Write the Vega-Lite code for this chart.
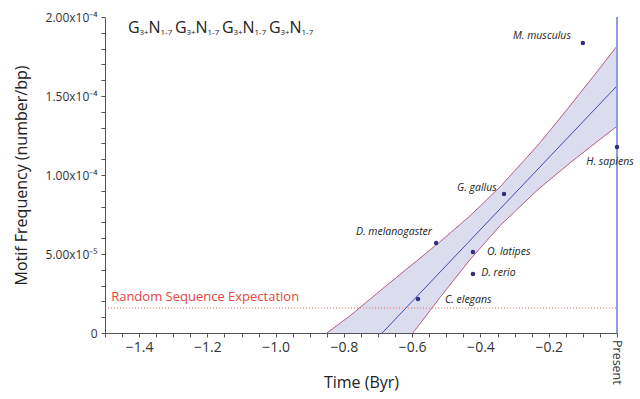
{
  "$schema": "https://vega.github.io/schema/vega-lite/v6.json",
  "width": 512,
  "height": 316,
  "autosize": {"type": "none"},
  "padding": {"left": 105, "top": 17, "right": 23, "bottom": 66},
  "config": {
    "view": {"stroke": null},
    "font": "Open Sans",
    "axis": {"grid": false, "domainColor": "#555", "tickColor": "#555", "labelColor": "#333", "titleColor": "#222", "labelFont": "Open Sans", "titleFont": "Open Sans", "titleFontWeight": "normal"}
  },
  "datasets": {
    "band": [
      {"x": -0.85, "y": -7.32e-5, "y2": 0},
      {"x": -0.782, "y": -5.34e-5, "y2": 1.09e-5},
      {"x": -0.688, "y": -2.62e-5, "y2": 2.78e-5},
      {"x": -0.598, "y": 0, "y2": 4.37e-5},
      {"x": -0.519, "y": 2.24e-5, "y2": 5.76e-5},
      {"x": -0.431, "y": 4.63e-5, "y2": 7.41e-5},
      {"x": -0.343, "y": 6.79e-5, "y2": 9.24e-5},
      {"x": -0.231, "y": 9.09e-5, "y2": 1.19e-4},
      {"x": -0.138, "y": 1.076e-4, "y2": 1.437e-4},
      {"x": -0.05, "y": 1.225e-4, "y2": 1.677e-4},
      {"x": 0, "y": 1.308e-4, "y2": 1.816e-4}
    ],
    "lines": [
      {"line": "upper", "x": -0.85, "y": 0},
      {"line": "upper", "x": -0.782, "y": 1.09e-5},
      {"line": "upper", "x": -0.688, "y": 2.78e-5},
      {"line": "upper", "x": -0.598, "y": 4.37e-5},
      {"line": "upper", "x": -0.519, "y": 5.76e-5},
      {"line": "upper", "x": -0.431, "y": 7.41e-5},
      {"line": "upper", "x": -0.343, "y": 9.24e-5},
      {"line": "upper", "x": -0.231, "y": 1.19e-4},
      {"line": "upper", "x": -0.138, "y": 1.437e-4},
      {"line": "upper", "x": -0.05, "y": 1.677e-4},
      {"line": "upper", "x": 0, "y": 1.816e-4},
      {"line": "lower", "x": -0.688, "y": -2.62e-5},
      {"line": "lower", "x": -0.598, "y": 0},
      {"line": "lower", "x": -0.519, "y": 2.24e-5},
      {"line": "lower", "x": -0.431, "y": 4.63e-5},
      {"line": "lower", "x": -0.343, "y": 6.79e-5},
      {"line": "lower", "x": -0.231, "y": 9.09e-5},
      {"line": "lower", "x": -0.138, "y": 1.076e-4},
      {"line": "lower", "x": -0.05, "y": 1.225e-4},
      {"line": "lower", "x": 0, "y": 1.308e-4},
      {"line": "center", "x": -0.782, "y": -2.13e-5},
      {"line": "center", "x": -0.688, "y": 0},
      {"line": "center", "x": 0, "y": 1.564e-4}
    ],
    "species": [
      {"name": "M. musculus", "x": -0.1, "y": 1.835e-4},
      {"name": "H. sapiens", "x": 0, "y": 1.177e-4},
      {"name": "G. gallus", "x": -0.331, "y": 0.88e-4},
      {"name": "D. melanogaster", "x": -0.53, "y": 0.57e-4},
      {"name": "O. latipes", "x": -0.422, "y": 0.513e-4},
      {"name": "D. rerio", "x": -0.422, "y": 0.373e-4},
      {"name": "C. elegans", "x": -0.583, "y": 0.215e-4}
    ],
    "labels": [
      {"name": "M. musculus", "x": -0.135, "y": 1.88e-4},
      {"name": "H. sapiens", "x": -0.0205, "y": 1.082e-4},
      {"name": "G. gallus", "x": -0.352, "y": 0.918e-4},
      {"name": "D. melanogaster", "x": -0.542, "y": 0.639e-4},
      {"name": "O. latipes", "x": -0.381, "y": 0.513e-4},
      {"name": "D. rerio", "x": -0.398, "y": 0.38e-4},
      {"name": "C. elegans", "x": -0.504, "y": 0.209e-4}
    ],
    "formula": [
      {"x": -1.4326, "y": 1.899e-4},
      {"x": -1.2949, "y": 1.899e-4},
      {"x": -1.1572, "y": 1.899e-4},
      {"x": -1.0195, "y": 1.899e-4}
    ]
  },
  "encoding": {
    "x": {"field": "x", "type": "quantitative", "title": "Time (Byr)",
      "scale": {"domain": [-1.5, 0], "nice": false, "zero": false},
      "axis": {"values": [-1.5,-1.45,-1.4,-1.35,-1.3,-1.25,-1.2,-1.15,-1.1,-1.05,-1.0,-0.95,-0.9,-0.85,-0.8,-0.75,-0.7,-0.65,-0.6,-0.55,-0.5,-0.45,-0.4,-0.35,-0.3,-0.25,-0.2,-0.15,-0.1,-0.05,0],
        "labelExpr": "abs(datum.value) < 0.001 ? '' : (abs(datum.value/0.2 - round(datum.value/0.2)) < 0.01 ? format(datum.value, '.1f') : '')",
        "titleFontSize": 16, "titleY": 41, "titleBaseline": "top",
        "labelFontSize": 14, "tickSize": 4, "labelPadding": 3, "labelFlush": false, "labelOverlap": false}},
    "y": {"field": "y", "type": "quantitative", "title": "Motif Frequency (number/bp)",
      "scale": {"domain": [0, 0.0002], "nice": false, "zero": false},
      "axis": {"values": [0,0.00001,0.00002,0.00003,0.00004,0.00005,0.00006,0.00007,0.00008,0.00009,0.0001,0.00011,0.00012,0.00013,0.00014,0.00015,0.00016,0.00017,0.00018,0.00019,0.0002],
        "labelExpr": "datum.value == 0 ? '0' : (abs(datum.value/0.00005 - round(datum.value/0.00005)) < 0.01 ? (datum.value < 0.0001 ? format(datum.value*100000, '.2f') + 'x10⁻⁵' : format(datum.value*10000, '.2f') + 'x10⁻⁴') : '')",
        "titleFontSize": 16, "titleX": -84, "titleY": 158, "titleAlign": "center", "titleAngle": -90, "titleBaseline": "middle",
        "labelFontSize": 12, "tickSize": 4, "labelPadding": 4, "labelOverlap": false}}
  },
  "layer": [
    {
      "data": {"name": "band"},
      "mark": {"type": "area", "color": "#dcdcef", "clip": true, "opacity": 1},
      "encoding": {"y2": {"field": "y2"}}
    },
    {
      "data": {"name": "lines"},
      "mark": {"type": "line", "strokeWidth": 1, "clip": true},
      "encoding": {
        "color": {"field": "line", "type": "nominal", "legend": null,
          "scale": {"domain": ["upper", "lower", "center"], "range": ["#b2607f", "#b2607f", "#4646b4"]}}
      }
    },
    {
      "data": {"values": [{"x": 0, "y": 0, "y2": 0.0002}]},
      "mark": {"type": "rule", "color": "#8e9ce0", "strokeWidth": 2},
      "encoding": {"y2": {"field": "y2"}}
    },
    {
      "data": {"values": [{"x": -1.5, "x2": 0, "y": 0.0000158}]},
      "mark": {"type": "rule", "color": "#e86a6a", "strokeWidth": 1, "strokeDash": [1, 2]},
      "encoding": {"x2": {"field": "x2"}}
    },
    {
      "data": {"name": "species"},
      "mark": {"type": "circle", "color": "#2e2e82", "size": 20, "opacity": 1},
      "encoding": {}
    },
    {
      "data": {"name": "labels"},
      "transform": [{"filter": {"field": "name", "oneOf": ["M. musculus", "G. gallus", "D. melanogaster"]}}],
      "mark": {"type": "text", "align": "right", "baseline": "middle", "fontStyle": "italic", "fontSize": 10.5, "color": "#222"},
      "encoding": {"text": {"field": "name"}}
    },
    {
      "data": {"name": "labels"},
      "transform": [{"filter": {"field": "name", "oneOf": ["O. latipes", "D. rerio", "C. elegans"]}}],
      "mark": {"type": "text", "align": "left", "baseline": "middle", "fontStyle": "italic", "fontSize": 10.5, "color": "#222"},
      "encoding": {"text": {"field": "name"}}
    },
    {
      "data": {"name": "labels"},
      "transform": [{"filter": {"field": "name", "equal": "H. sapiens"}}],
      "mark": {"type": "text", "align": "center", "baseline": "middle", "fontStyle": "italic", "fontSize": 10.5, "color": "#222"},
      "encoding": {"text": {"field": "name"}}
    },
    {
      "data": {"values": [{"text": "Random Sequence Expectation", "x": -1.482, "y": 2.28e-5}]},
      "mark": {"type": "text", "align": "left", "baseline": "middle", "fontSize": 13, "color": "#e8453f"},
      "encoding": {"text": {"field": "text"}}
    },
    {
      "data": {"name": "formula"},
      "mark": {"type": "text", "align": "left", "baseline": "alphabetic", "fontSize": 16, "color": "#222", "text": "G"},
      "encoding": {}
    },
    {
      "data": {"name": "formula"},
      "mark": {"type": "text", "align": "left", "baseline": "alphabetic", "fontSize": 8, "color": "#222", "text": "3+", "dx": 11.5, "dy": 2.5},
      "encoding": {}
    },
    {
      "data": {"name": "formula"},
      "mark": {"type": "text", "align": "left", "baseline": "alphabetic", "fontSize": 16, "color": "#222", "text": "N", "dx": 20.5},
      "encoding": {}
    },
    {
      "data": {"name": "formula"},
      "mark": {"type": "text", "align": "left", "baseline": "alphabetic", "fontSize": 8, "color": "#222", "text": "1-7", "dx": 32.5, "dy": 2.5},
      "encoding": {}
    },
    {
      "data": {"values": [{"x": 0, "y": 0}]},
      "mark": {"type": "text", "angle": 90, "align": "left", "baseline": "middle", "fontSize": 12.5, "color": "#333", "dx": 7, "text": "Present"},
      "encoding": {}
    }
  ]
}
